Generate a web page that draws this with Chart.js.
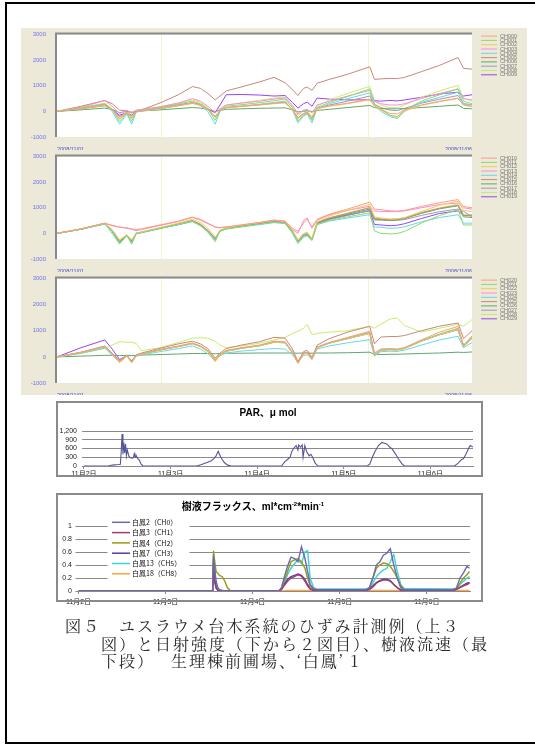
<!DOCTYPE html>
<html>
<head>
<meta charset="utf-8">
<script src="https://cdn.jsdelivr.net/npm/chart.js@4.4.0/dist/chart.umd.min.js"></script>
<style>
  body { margin: 0; width: 535px; height: 746px; background: #fff; position: relative; overflow: hidden; }
  .frame { position: absolute; left: 5px; top: 2px; width: 600px; height: 738px; border: 2px solid #000; }
  .beige { position: absolute; left: 21px; top: 28px; width: 506px; height: 367px; background: #ece9d8; }
  canvas { position: absolute; }
  .box { position: absolute; border: 2px solid #8a8a8a; box-sizing: border-box; }
  .cap { position: absolute; font-family: "Noto Serif CJK JP", "Noto Sans CJK JP", serif; font-size: 16px;
         letter-spacing: 2px; color: #2a2a2a; white-space: pre; line-height: 16px; }
</style>
</head>
<body>
<div class="frame"></div>
<div class="beige"></div>
<canvas id="s1" width="506" height="122" style="left:21px;top:28px"></canvas>
<canvas id="s2" width="506" height="122" style="left:21px;top:150px"></canvas>
<canvas id="s3" width="506" height="123" style="left:21px;top:272px"></canvas>
<canvas id="par" width="427" height="80" style="left:56px;top:401px"></canvas>
<div class="box" style="left:56px;top:401px;width:427px;height:76px"></div>
<canvas id="flux" width="427" height="114" style="left:56px;top:493px"></canvas>
<div class="box" style="left:56px;top:493px;width:427px;height:109px"></div>
<div class="cap" style="left:65px;top:618px">図５　ユスラウメ台木系統のひずみ計測例（上３</div>
<div class="cap" style="left:101px;top:636px">図）と日射強度（下から２図目）、樹液流速（最</div>
<div class="cap" style="left:101px;top:653px">下段）　 生理棟前圃場、‘白鳳’ 1</div>
<script>
// strain gauges: hours since 2008/11/01 18:20
const hours = [0, 6.5, 13, 15, 17, 19, 20.3, 21.5, 23, 28,
  33, 36.8, 39, 41, 43, 44.3, 46, 50, 55, 59,
  62, 64, 65.5, 67, 68, 69.3, 70.7, 74, 79, 85,
  86.3, 88, 90.5, 92.5, 94.5, 99, 104, 109, 110.5, 112.8]
const dateLabels = [['2008/11/01', '18:20:00'], ['2008/11/06', '11:10:00']]

const names1 = ['CH000', 'CH001', 'CH002', 'CH003', 'CH004', 'CH005', 'CH006', 'CH007', 'CH008', 'CH009']
const names2 = ['CH010', 'CH011', 'CH012', 'CH013', 'CH014', 'CH015', 'CH016', 'CH017', 'CH018', 'CH019']
const names3 = ['CH020', 'CH021', 'CH022', 'CH023', 'CH024', 'CH025', 'CH026', 'CH027', 'CH028', 'CH029']
const lineColors = ['#ff9a80', '#88dd66', '#f2cc55', '#ff88dd', '#66d8e8', '#c88878', '#5fa86a', '#9a9ab8', '#c4ee6a', '#9944ee']

const strain1 = [
  [0, 120, 250, 60, -300, -60, -250, -20, 20, 120, 240, 330, 260, 80, -200, 30, 150, 200, 260, 320, 350, 80, -250, -100, -50, -280, 120, 220, 320, 480, 220, 80, -80, -100, 60, 250, 400, 520, 250, 200],
  [0, 140, 300, 80, -400, -50, -380, 0, 40, 150, 290, 400, 300, 100, -350, 50, 200, 260, 340, 420, 480, 150, -380, -150, -80, -350, 150, 350, 580, 880, 300, 100, -150, -200, 50, 400, 650, 880, 400, 300],
  [0, 110, 240, 50, -250, -40, -200, 0, 30, 110, 220, 310, 240, 70, -180, 20, 140, 190, 250, 300, 330, 60, -300, -120, -60, -300, 100, 200, 300, 450, 200, 60, -150, -250, 20, 230, 380, 500, 250, 180],
  [0, 160, 420, 200, -80, 30, -60, 50, 80, 180, 330, 500, 400, 200, -50, 100, 250, 320, 400, 480, 530, 250, -100, 50, 80, -60, 250, 400, 600, 820, 400, 300, 250, 250, 300, 500, 700, 880, 500, 450],
  [0, 120, 260, 0, -500, -100, -500, -30, 10, 100, 220, 330, 220, 0, -500, 0, 150, 200, 280, 350, 400, 50, -450, -200, -100, -450, 100, 300, 500, 720, 250, 0, -200, -280, 0, 350, 550, 750, 300, 250],
  [0, 200, 425, 300, 50, 20, -30, 0, 60, 330, 650, 970, 900, 700, 450, 600, 800, 950, 1150, 1330, 1120, 850, 620, 900, 950, 820, 1100, 1250, 1450, 1740, 1250, 1270, 1290, 1280, 1330, 1550, 1800, 2100, 1680, 1650],
  [0, 60, 130, 80, -50, 0, -60, 0, 20, 60, 110, 150, 130, 80, 0, 40, 80, 100, 120, 130, 140, 60, -20, 10, 20, 0, 40, 80, 150, 230, 150, 110, 100, 100, 110, 150, 200, 250, 120, 100],
  [0, 100, 220, 50, -200, -50, -180, 0, 30, 120, 230, 320, 250, 80, -200, 20, 150, 200, 260, 320, 360, 80, -250, -80, -30, -250, 120, 250, 400, 600, 280, 150, 50, 30, 120, 320, 480, 620, 300, 260],
  [0, 150, 320, 100, -300, 0, -300, 20, 60, 180, 320, 450, 350, 150, -250, 80, 250, 330, 430, 520, 560, 200, -150, 0, 30, -200, 200, 450, 700, 980, 400, 250, 150, 150, 250, 550, 800, 1020, 500, 400],
  [0, 120, 270, 80, -150, -50, -150, 0, 30, 130, 250, 340, 260, 80, -50, 250, 650, 660, 640, 600, 620, 350, 130, 300, 360, 200, 520, 480, 450, 450, 420, 400, 430, 410, 450, 550, 680, 750, 600, 650]
]
const strain2 = [
  [0, 180, 400, 320, 250, 220, 180, 150, 180, 330, 480, 640, 550, 400, 250, 230, 250, 330, 430, 520, 480, 200, 80, 400, 550, 250, 550, 750, 950, 1220, 950, 930, 880, 870, 900, 1050, 1200, 1320, 1050, 1000],
  [0, 160, 380, 0, -420, -80, -420, -20, 40, 200, 350, 480, 300, 50, -330, 100, 180, 260, 360, 440, 400, 0, -400, -150, -100, -280, 350, 500, 650, 800, 100, 0, -20, 0, 80, 400, 700, 930, 330, 330],
  [0, 175, 400, 150, -250, -50, -250, 10, 60, 230, 400, 550, 420, 200, -150, 120, 220, 320, 420, 520, 480, 120, -250, 0, 50, -200, 450, 680, 900, 1130, 650, 600, 560, 570, 620, 850, 1100, 1260, 900, 850],
  [0, 170, 390, 300, 240, 200, 160, 100, 150, 310, 460, 620, 520, 380, 240, 220, 250, 320, 420, 500, 450, 150, 0, 500, 600, 200, 520, 720, 900, 1060, 880, 860, 850, 850, 880, 1000, 1130, 1190, 1000, 950],
  [0, 160, 370, 100, -380, -80, -380, 0, 40, 200, 340, 460, 300, 80, -250, 100, 170, 250, 340, 420, 380, 50, -330, -100, -50, -250, 350, 480, 600, 730, 250, 240, 200, 210, 260, 450, 620, 730, 400, 400],
  [0, 170, 390, 120, -300, -60, -300, 10, 50, 210, 370, 500, 350, 120, -200, 110, 200, 300, 400, 480, 440, 100, -300, -50, 0, -220, 420, 600, 780, 1000, 580, 560, 540, 560, 600, 800, 980, 1100, 700, 680],
  [0, 165, 380, 100, -350, -70, -350, 0, 40, 200, 360, 490, 330, 100, -220, 100, 190, 290, 390, 470, 430, 80, -320, -80, -30, -230, 400, 580, 750, 950, 560, 540, 520, 530, 580, 780, 960, 1080, 650, 620],
  [0, 160, 370, 80, -380, -80, -360, -10, 30, 190, 340, 470, 320, 90, -230, 90, 180, 280, 370, 450, 410, 60, -350, -100, -60, -260, 380, 540, 700, 900, 520, 520, 500, 510, 540, 700, 850, 950, 860, 660],
  [0, 170, 390, 110, -320, -60, -320, 0, 50, 210, 370, 510, 360, 120, -200, 110, 210, 310, 410, 490, 450, 90, -300, -60, -20, -220, 430, 620, 800, 1020, 600, 570, 550, 560, 610, 820, 1000, 1150, 750, 700],
  [0, 165, 380, 90, -360, -70, -360, 0, 40, 200, 350, 480, 320, 90, -250, 100, 190, 280, 380, 460, 420, 70, -330, -80, -40, -240, 390, 560, 720, 880, 350, 330, 300, 320, 380, 580, 780, 880, 700, 720]
]
const strain3 = [
  [0, 170, 400, 120, -170, 60, -190, 60, 120, 280, 420, 530, 420, 250, -100, 100, 250, 350, 450, 600, 580, 200, -230, 150, 180, -80, 380, 550, 750, 980, 150, 300, 320, 300, 360, 650, 950, 1170, 450, 800],
  [0, 165, 390, 110, -180, 50, -200, 50, 110, 270, 410, 520, 410, 230, -120, 90, 230, 340, 440, 580, 560, 180, -240, 140, 170, -60, 370, 540, 720, 950, 100, 280, 300, 290, 340, 620, 880, 1100, 400, 750],
  [0, 160, 380, 90, -220, 30, -230, 40, 100, 260, 390, 500, 380, 200, -190, 60, 210, 320, 420, 560, 540, 150, -250, 100, 140, -100, 350, 520, 700, 900, 80, 250, 270, 260, 320, 600, 850, 1050, 380, 700],
  [0, 170, 400, 100, -200, 40, -210, 50, 110, 270, 400, 520, 400, 220, -150, 80, 220, 330, 430, 570, 550, 170, -230, 120, 160, -80, 360, 540, 720, 920, 60, 260, 280, 270, 330, 610, 860, 1050, 420, 720],
  [0, 140, 330, 60, -200, 20, -210, 20, 80, 200, 320, 420, 300, 120, -150, 40, 150, 220, 280, 320, 300, 80, -200, 50, 80, -100, 300, 420, 540, 660, 30, 200, 220, 210, 260, 450, 650, 790, 350, 550],
  [0, 180, 420, 150, -150, 70, -170, 80, 150, 330, 500, 600, 500, 320, -50, 150, 320, 450, 580, 750, 720, 300, -180, 200, 250, -20, 450, 700, 950, 1170, 500, 760, 780, 780, 820, 1000, 1180, 1300, 700, 1000],
  [0, 30, 60, 60, 50, 60, 50, 60, 70, 90, 110, 130, 130, 130, 120, 130, 140, 140, 150, 150, 150, 150, 140, 150, 150, 140, 150, 150, 160, 180, 100, 90, 100, 100, 110, 130, 150, 180, 170, 190],
  [0, 165, 385, 100, -190, 50, -200, 50, 110, 270, 400, 510, 400, 220, -130, 90, 230, 330, 430, 570, 550, 160, -220, 130, 170, -70, 360, 530, 710, 920, 80, 270, 290, 280, 330, 610, 860, 1060, 430, 740],
  [0, 130, 330, 450, 580, 560, 560, 520, 240, 350, 550, 720, 730, 720, 600, 450, 350, 420, 520, 650, 750, 900, 980, 1100, 1240, 850, 900, 950, 1000, 1180, 1100, 1250, 1450, 1490, 1200, 950, 1100, 1250, 1180, 1430],
  [0, 350, 650, 300, -100, 40, -150, 50, 110, 270, 400, 510, 400, 220, -130, 80, 220, 330, 430, 560, 540, 160, -220, 130, 170, -70, 360, 530, 700, 900, 70, 260, 280, 270, 330, 600, 850, 1040, 420, 720]
]

// PAR and sap flux: days since 11/2 00:00
const dayLabels = ['11月2日', '11月3日', '11月4日', '11月5日', '11月6日']
const parTitle = [{ text: 'PAR、μ mol' }]
const parDays = [0, 0.28, 0.3, 0.35, 0.4, 0.42, 0.43, 0.44, 0.45, 0.46, 0.47, 0.48, 0.49, 0.5, 0.52, 0.55, 0.57, 0.58, 0.59, 0.6,
  0.62, 0.64, 0.66, 0.68, 1.3, 1.35, 1.42, 1.47, 1.5, 1.52, 1.55, 1.58, 1.62, 1.66, 1.7, 2.28, 2.32, 2.36, 2.38, 2.4,
  2.42, 2.45, 2.47, 2.48, 2.5, 2.52, 2.53, 2.55, 2.57, 2.6, 2.62, 2.64, 2.67, 2.7, 3.27, 3.3, 3.33, 3.36, 3.4, 3.44,
  3.47, 3.5, 3.53, 3.56, 3.6, 3.63, 3.67, 3.7, 4.28, 4.32, 4.36, 4.38, 4.41, 4.44, 4.46, 4.49]
const parValues = [0, 0, 20, 40, 50, 60, 500, 1100, 400, 800, 450, 750, 350, 550, 320, 270, 280, 420, 300, 380,
  250, 200, 60, 0, 0, 40, 120, 180, 250, 320, 500, 300, 120, 30, 0, 0, 150, 250, 300, 500,
  600, 700, 550, 720, 650, 720, 300, 700, 500, 350, 400, 300, 100, 0, 0, 60, 300, 500, 700, 810,
  780, 750, 650, 580, 400, 250, 80, 0, 0, 100, 220, 250, 400, 600, 700, 650]

const fluxTitle = [{ text: '樹液フラックス、ml*cm' }, { text: '-2', sup: true }, { text: '*min' }, { text: '-1', sup: true }]
const fluxNames = ['白鳳2（CH0）', '白鳳3（CH1）', '白鳳4（CH2）', '白鳳7（CH3）', '白鳳13（CH5）', '白鳳18（CH8）']
const fluxColors = ['#6a6ab2', '#a03c6e', '#9a9a10', '#5c3ca0', '#3ed2d2', '#ffa43c']
const fluxDays = [0, 1.5, 1.54, 1.55, 1.56, 1.58, 1.6, 1.62, 1.65, 1.68, 1.71, 1.74, 2.3, 2.33, 2.36, 2.4, 2.44, 2.48, 2.52, 2.56,
  2.6, 2.63, 2.66, 2.7, 2.74, 3.3, 3.34, 3.38, 3.42, 3.46, 3.5, 3.54, 3.58, 3.62, 3.66, 3.7, 3.74, 4.3, 4.34, 4.38,
  4.42, 4.46, 4.49]
const fluxValues = [
  [0, 0, 0, 0.55, 0.4, 0.15, 0.05, 0.02, 0.01, 0, 0, 0, 0, 0.05, 0.2, 0.38, 0.52, 0.5, 0.45, 0.68, 0.5, 0.3, 0.1, 0.03, 0.02, 0.02, 0.05, 0.2, 0.4, 0.45, 0.55, 0.58, 0.65, 0.4, 0.2, 0.05, 0.02, 0.02, 0.05, 0.2, 0.28, 0.38, 0.35],
  [0, 0, 0, 0.3, 0.15, 0.05, 0.01, 0, 0, 0, 0, 0, 0, 0.02, 0.08, 0.15, 0.2, 0.22, 0.25, 0.23, 0.15, 0.08, 0.03, 0.01, 0.01, 0.01, 0.02, 0.06, 0.12, 0.15, 0.17, 0.17, 0.15, 0.1, 0.05, 0.01, 0.01, 0.01, 0.02, 0.05, 0.08, 0.1, 0.12],
  [0, 0, 0, 0.62, 0.5, 0.3, 0.27, 0.24, 0.22, 0.15, 0.05, 0.01, 0, 0.03, 0.15, 0.3, 0.45, 0.48, 0.5, 0.45, 0.35, 0.2, 0.08, 0.03, 0.02, 0.02, 0.05, 0.2, 0.35, 0.4, 0.43, 0.42, 0.38, 0.3, 0.2, 0.08, 0.02, 0.02, 0.04, 0.12, 0.2, 0.25, 0.3],
  [0, 0, 0, 0.5, 0.2, 0.05, 0.01, 0, 0, 0, 0, 0, 0, 0.03, 0.1, 0.18, 0.22, 0.24, 0.26, 0.24, 0.18, 0.1, 0.04, 0.01, 0.01, 0.01, 0.03, 0.08, 0.13, 0.16, 0.18, 0.18, 0.16, 0.1, 0.05, 0.02, 0.01, 0.01, 0.03, 0.06, 0.09, 0.12, 0.13],
  [0, 0, 0, 0.45, 0.35, 0.1, 0.03, 0.01, 0.01, 0, 0, 0, 0, 0.04, 0.12, 0.25, 0.35, 0.42, 0.48, 0.42, 0.6, 0.62, 0.2, 0.05, 0.03, 0.03, 0.05, 0.12, 0.22, 0.28, 0.32, 0.35, 0.45, 0.56, 0.3, 0.1, 0.04, 0.03, 0.04, 0.1, 0.15, 0.2, 0.22],
  [0, 0, 0, 0.3, 0.25, 0.05, 0.01, 0, 0, 0, 0, 0, 0, 0, 0, 0.01, 0.01, 0.01, 0.01, 0.01, 0.01, 0.01, 0.01, 0, 0, 0, 0, 0.01, 0.01, 0.01, 0.01, 0.01, 0.01, 0.01, 0.01, 0, 0, 0, 0, 0.01, 0.01, 0.01, 0.01]
]

Chart.defaults.font.family = '"Liberation Sans", "Noto Sans CJK JP", sans-serif'

// white plot area, inset border, faint quarter lines and the little legend on the right
const strainFrame = {
  id: 'strainFrame',
  beforeDatasetsDraw(chart) {
    const { ctx, chartArea: a, scales: { x } } = chart
    ctx.save()
    ctx.fillStyle = '#fff'
    ctx.fillRect(a.left, a.top, a.right - a.left, a.bottom - a.top)
    ctx.strokeStyle = '#f2f2cc'
    ctx.lineWidth = 1
    ;[0.25, 0.75].forEach((q) => {
      const px = Math.round(x.getPixelForValue(x.min + (x.max - x.min) * q)) + 0.5
      ctx.beginPath(); ctx.moveTo(px, a.top); ctx.lineTo(px, a.bottom); ctx.stroke()
    })
    ctx.strokeStyle = '#8a8a8a'
    ctx.lineWidth = 2
    ctx.beginPath(); ctx.moveTo(a.left - 1, a.bottom); ctx.lineTo(a.left - 1, a.top - 1); ctx.lineTo(a.right, a.top - 1); ctx.stroke()
    ctx.restore()
  },
  afterDraw(chart) {
    const { ctx, chartArea: a } = chart
    ctx.save()
    ctx.font = '5.5px "Liberation Sans"'
    ctx.textBaseline = 'middle'
    chart.data.datasets.forEach((d, i) => {
      const y = a.top + 1.5 + i * 4.3
      ctx.strokeStyle = d.borderColor
      ctx.lineWidth = 1
      ctx.beginPath(); ctx.moveTo(a.right + 9, y); ctx.lineTo(a.right + 25, y); ctx.stroke()
      ctx.fillStyle = '#777'
      ctx.fillText(d.label, a.right + 28, y)
    })
    ctx.restore()
  }
}

function strainChart(id, names, series, topPad, axisHeight) {
  return new Chart(document.getElementById(id), {
    type: 'line',
    data: {
      datasets: names.map((name, i) => ({
        label: name,
        data: hours.map((h, j) => ({ x: h, y: series[i][j] })),
        borderColor: lineColors[i],
        borderWidth: 1,
        pointRadius: 0,
        tension: 0
      }))
    },
    options: {
      responsive: false,
      animation: false,
      events: [],
      layout: { padding: { top: topPad, right: 55, left: 0, bottom: 0 } },
      plugins: { legend: { display: false }, tooltip: { enabled: false } },
      scales: {
        x: {
          type: 'linear', min: hours[0], max: hours[hours.length - 1],
          afterBuildTicks: (s) => { s.ticks = [{ value: s.min }, { value: s.max }] },
          afterFit: (s) => { s.height = axisHeight },
          grid: { display: false }, border: { display: false },
          ticks: { align: 'inner', maxRotation: 0, autoSkip: false, padding: 2, color: '#4a4ad6',
                   font: { size: 5.5, lineHeight: 1 }, callback: (v, i) => dateLabels[i] }
        },
        y: {
          min: -1000, max: 3000,
          afterFit: (s) => { s.width = 36 },
          grid: { display: false }, border: { display: false },
          ticks: { stepSize: 1000, autoSkip: false, padding: 3, color: '#7474ee', font: { size: 6 }, callback: (v) => String(v) }
        }
      }
    },
    plugins: [strainFrame]
  })
}

strainChart('s1', names1, strain1, 5, 13)
strainChart('s2', names2, strain2, 4, 13)
strainChart('s3', names3, strain3, 3, 12)

// bold title with optional superscripts, centred on a given point
const boxTitle = {
  id: 'boxTitle',
  afterDraw(chart, args, opts) {
    const ctx = chart.ctx
    const main = 'bold 10px "Liberation Sans", "Noto Sans CJK JP"'
    const sup = 'bold 6px "Liberation Sans"'
    ctx.save()
    ctx.fillStyle = '#000'
    ctx.textBaseline = 'alphabetic'
    let w = 0
    opts.parts.forEach((p) => { ctx.font = p.sup ? sup : main; w += ctx.measureText(p.text).width })
    let x = opts.x - w / 2
    opts.parts.forEach((p) => {
      ctx.font = p.sup ? sup : main
      ctx.fillText(p.text, x, p.sup ? opts.y - 4 : opts.y)
      x += ctx.measureText(p.text).width
    })
    ctx.restore()
  }
}

// legend inside the sap flux plot, on a white patch
const fluxLegend = {
  id: 'fluxLegend',
  beforeDatasetsDraw(chart) {
    const { ctx, chartArea: a } = chart
    ctx.save()
    ctx.fillStyle = '#fff'
    ctx.fillRect(a.left + 29, a.top - 10, 82, 65)
    ctx.font = '7px "Noto Sans CJK JP"'
    ctx.textBaseline = 'middle'
    chart.data.datasets.forEach((d, i) => {
      const y = a.top - 3.7 + i * 10.3
      ctx.strokeStyle = d.borderColor
      ctx.lineWidth = 1.5
      ctx.beginPath(); ctx.moveTo(a.left + 33.5, y); ctx.lineTo(a.left + 51.5, y); ctx.stroke()
      ctx.fillStyle = '#111'
      ctx.fillText(d.label, a.left + 53.5, y)
    })
    ctx.restore()
  }
}

const tickFont = { size: 7 }

new Chart(document.getElementById('par'), {
  type: 'line',
  data: {
    datasets: [{
      label: 'PAR',
      data: parDays.map((d, i) => ({ x: d, y: parValues[i] })),
      borderColor: '#55559c', borderWidth: 1.1, pointRadius: 0, tension: 0
    }]
  },
  options: {
    responsive: false, animation: false, events: [],
    layout: { padding: { top: 30, right: 10, left: 0, bottom: 0 } },
    plugins: { legend: { display: false }, tooltip: { enabled: false }, boxTitle: { parts: parTitle, x: 212, y: 14.5 } },
    scales: {
      x: {
        type: 'linear', min: -0.023, max: 4.492,
        afterBuildTicks: (s) => { s.ticks = dayLabels.map((_, i) => ({ value: i })) },
        afterFit: (s) => { s.height = 15 },
        grid: { drawOnChartArea: false, tickLength: 3, color: '#8a8a8a' },
        border: { color: '#8a8a8a' },
        ticks: { maxRotation: 0, autoSkip: false, padding: 1, color: '#222', font: tickFont, callback: (v, i) => dayLabels[i] }
      },
      y: {
        min: 0, max: 1200,
        afterFit: (s) => { s.width = 26 },
        grid: { color: '#8a8a8a', drawTicks: false },
        border: { display: false },
        ticks: { stepSize: 300, autoSkip: false, padding: 5, color: '#222', font: tickFont, callback: (v) => v.toLocaleString('en-US') }
      }
    }
  },
  plugins: [boxTitle]
})

new Chart(document.getElementById('flux'), {
  type: 'line',
  data: {
    datasets: fluxNames.map((name, i) => ({
      label: name,
      data: fluxDays.map((d, j) => ({ x: d, y: fluxValues[i][j] })),
      borderColor: fluxColors[i], borderWidth: 1.4, pointRadius: 0, tension: 0
    }))
  },
  options: {
    responsive: false, animation: false, events: [],
    layout: { padding: { top: 33, right: 13, left: 0, bottom: 0 } },
    plugins: { legend: { display: false }, tooltip: { enabled: false }, boxTitle: { parts: fluxTitle, x: 197, y: 16.5 } },
    scales: {
      x: {
        type: 'linear', min: 0, max: 4.495,
        afterBuildTicks: (s) => { s.ticks = dayLabels.map((_, i) => ({ value: i })) },
        afterFit: (s) => { s.height = 16 },
        grid: { drawOnChartArea: false, tickLength: 3, color: '#8a8a8a' },
        border: { color: '#8a8a8a' },
        ticks: { maxRotation: 0, autoSkip: false, padding: 4, color: '#222', font: tickFont, callback: (v, i) => dayLabels[i] }
      },
      y: {
        min: 0, max: 1,
        afterFit: (s) => { s.width = 22.5 },
        grid: { color: '#8a8a8a', tickLength: 3 },
        border: { display: false },
        ticks: { stepSize: 0.2, autoSkip: false, padding: 3.5, color: '#222', font: tickFont, callback: (v) => String(Math.round(v * 10) / 10) }
      }
    }
  },
  plugins: [fluxLegend, boxTitle]
})
</script>
</body>
</html>
